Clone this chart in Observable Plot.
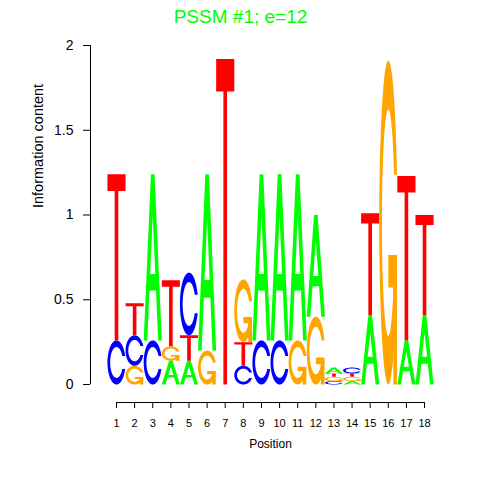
<!DOCTYPE html>
<html><head><meta charset="utf-8">
<script src="https://cdn.jsdelivr.net/npm/d3@7"></script>
<script src="https://cdn.jsdelivr.net/npm/@observablehq/plot@0.6"></script>
<style>body{margin:0;background:#fff}</style>
</head><body><div id="chart"></div>
<script>
// ---- data ----
const title = "PSSM #1; e=12";
const positions = [1,2,3,4,5,6,7,8,9,10,11,12,13,14,15,16,17,18];
// stacking order bottom -> top for each position
const stackOrder = ["CT","GCT","CA","AGT","ATC","GA","T","CTG","CA","CA","GA","GA","CGTA","AGTC","AT","G","AT","AT"];
const heightA = [0, 0, 0.98, 0.14, 0.14, 1.04, 0, 0, 0.98, 0.98, 0.98, 0.60, 0.035, 0.02, 0.41, 0, 0.26, 0.41];
const heightC = [0.26, 0.18, 0.26, 0, 0.37, 0, 0, 0.11, 0.26, 0.26, 0, 0, 0.02, 0.035, 0, 0, 0, 0];
const heightG = [0, 0.11, 0, 0.085, 0, 0.20, 0, 0.37, 0, 0, 0.26, 0.40, 0.025, 0.025, 0, 1.91, 0, 0];
const heightT = [0.98, 0.19, 0, 0.39, 0.15, 0, 1.92, 0.14, 0, 0, 0, 0, 0.02, 0.02, 0.60, 0, 0.97, 0.59];
const yTicks = [0, 0.5, 1, 1.5, 2];
const baseColors = {A: "#00FF00", C: "#0000FF", G: "#FFA500", T: "#FF0000"};

// ---- glyph outlines in a unit box (seqLogo style) ----
function seq(a, b, n) { const r = []; for (let i = 0; i < n; i++) r.push(a + (b - a) * i / (n - 1)); return r; }
function cShape() {
  const a1 = seq(0.3 + Math.PI / 2, Math.PI, 100), a2 = seq(Math.PI, 1.5 * Math.PI, 100);
  const xl1 = a1.map(a => 0.5 + 0.5 * Math.sin(a)), yl1 = a1.map(a => 0.5 + 0.5 * Math.cos(a));
  const xl2 = a2.map(a => 0.5 + 0.5 * Math.sin(a)), yl2 = a2.map(a => 0.5 + 0.5 * Math.cos(a));
  const xl = [...xl1, ...xl2], yl = [...yl1, ...yl2];
  let x = [...xl, ...xl.slice().reverse()];
  let y = [...yl, ...yl.slice().reverse().map(v => 1 - v)];
  const maxY = Math.max(...yl1);
  let xi1 = a1.map(a => 0.5 + 0.35 * Math.sin(a)), yi1 = a1.map(a => 0.5 + 0.35 * Math.cos(a));
  const keep = yi1.map(v => v <= maxY);
  xi1 = xi1.filter((_, i) => keep[i]); yi1 = yi1.filter((_, i) => keep[i]); yi1[0] = maxY;
  const xi2 = a2.map(a => 0.5 + 0.35 * Math.sin(a)), yi2 = a2.map(a => 0.5 + 0.35 * Math.cos(a));
  const xi = [...xi1, ...xi2], yi = [...yi1, ...yi2];
  const x1 = [...xi, ...xi.slice().reverse()], y1 = [...yi, ...yi.slice().reverse().map(v => 1 - v)];
  x = [...x, ...x1.slice().reverse()]; y = [...y, ...y1.slice().reverse()];
  return {x, y, r1: Math.max(...xl1)};
}
function glyph(b) {
  if (b === "A") return [
    {x: [0,4,6,10,8,6.8,3.2,2,0].map(v => v / 10), y: [0,10,10,0,0,3,3,0,0].map(v => v / 10), fill: baseColors.A},
    {x: [3.6,5,6.4,3.6].map(v => v / 10), y: [4,7.5,4,4].map(v => v / 10), fill: "#FFFFFF"}
  ];
  if (b === "T") return [
    {x: [0,10,10,6,6,4,4,0].map(v => v / 10), y: [10,10,9,9,0,0,9,9].map(v => v / 10), fill: baseColors.T}
  ];
  const c = cShape();
  if (b === "C") return [{x: c.x, y: c.y, fill: baseColors.C}];
  const r1 = c.r1, h1 = 0.4;
  return [
    {x: c.x, y: c.y, fill: baseColors.G},
    {x: [r1,0.5,0.5,r1-0.2,r1-0.2,r1,r1], y: [h1,h1,h1-0.1,h1-0.1,0,0,h1], fill: baseColors.G}
  ];
}
const heights = {A: heightA, C: heightC, G: heightG, T: heightT};
const glyphRows = [];
positions.forEach((p, i) => {
  let y0 = 0;
  for (const b of stackOrder[i]) {
    const h = heights[b][i];
    if (!(h > 0)) continue;
    glyph(b).forEach((part, k) => {
      const id = `${p}-${b}-${k}`;
      part.x.forEach((gx, j) => glyphRows.push({x: p - 0.5 + gx, y: y0 + part.y[j] * h, id, fill: part.fill}));
    });
    y0 += h;
  }
});

// ---- layout ----
const W = 480, H = 480, mL = 90, mR = 30, mT = 45, mB = 78;
const pxPerPos = 18.12;           // spacing of positions
const xLo = 1 - (116 - mL) / pxPerPos;
const xHi = xLo + (W - mL - mR) / pxPerPos;
const yLo = -2 * 18 / 339;        // axis line sits below zero

const chart = Plot.plot({
  width: W, height: H,
  marginLeft: mL, marginRight: mR, marginTop: mT, marginBottom: mB,
  x: {domain: [xLo, xHi], axis: null},
  y: {domain: [yLo, 2], axis: null},
  color: {type: "identity"},
  style: {fontFamily: "'Liberation Sans', Arial, Helvetica, sans-serif", background: "white", color: "black"},
  marks: [
    Plot.line(glyphRows, {x: "x", y: "y", z: "id", fill: "fill", stroke: "none", curve: "linear"}),
    Plot.axisY({ticks: yTicks, tickSize: 7, tickPadding: 10, fontSize: 14, tickFormat: d => String(d), label: null}),
    Plot.ruleX([xLo], {y1: 0, y2: 2, stroke: "black"}),
    Plot.axisX({ticks: positions, tickSize: 6, tickPadding: 11, fontSize: 11, tickFormat: d => String(d), label: null}),
    Plot.ruleY([yLo], {x1: positions[0], x2: positions[positions.length - 1], stroke: "black"}),
    Plot.text([title], {text: d => d, frameAnchor: "top", dx: -30, dy: -36, fontSize: 19, fill: "#00FF00"}),
    Plot.text(["Position"], {text: d => d, frameAnchor: "bottom", dy: 45, fontSize: 12}),
    Plot.text(["Information content"], {text: d => d, frameAnchor: "left", dx: -52, dy: -16, rotate: -90, fontSize: 14.5})
  ]
});
document.getElementById("chart").appendChild(chart);
</script></body></html>
